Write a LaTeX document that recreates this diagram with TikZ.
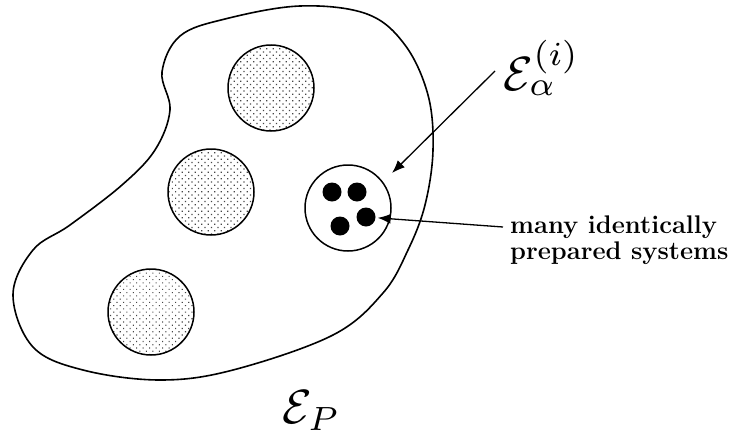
\documentclass[tikz,border=0pt]{standalone}
\usepackage{amsmath,amssymb}
\usepackage{tikz}
\usetikzlibrary{arrows.meta,patterns.meta}
\definecolor{dotgray}{RGB}{70,70,70}
\tikzset{
  ens/.style={circle, draw, line width=1.5pt, minimum size=86pt, inner sep=0pt},
  dotted ens/.style={ens, pattern={Dots[distance=4.6pt, radius=0.85pt, angle=45]}, pattern color=dotgray},
  sysdot/.style={circle, fill=black, minimum size=19pt, inner sep=0pt},
  biglabel/.style={scale=4.8, inner sep=0pt},
  arr/.style={-{Latex[length=13pt, width=10pt]}, line width=1.3pt, shorten >=2pt}
}

\begin{document}
\begin{tikzpicture}[x=1pt, y=-1pt]
    \useasboundingbox (0,0) rectangle (735,439);
    \draw[line width=1.6pt] plot[smooth cycle, tension=0.6] coordinates {
      (300,6) (367,14) (405,45) (428,95) (433,150) (425,205) (408,250) (383,293)
      (333,335) (233,370) (160,380) (83,370) (33,347) (13,295) (33,250) (70,225)
      (122,185) (155,150) (170,110) (162,72) (180,36) (225,19)};
    \node[dotted ens] (ea) at (271,88) {};
    \node[dotted ens] (eb) at (211,192) {};
    \node[dotted ens] (ec) at (151,312) {};
    \node[ens] (ei) at (348,208) {};
    \node[sysdot] (d1) at (332,192) {};
    \node[sysdot] (d2) at (357,192) {};
    \node[sysdot] (d3) at (340,226) {};
    \node[sysdot] (d4) at (366,217) {};
    \node[biglabel, anchor=base west] (lbl) at (503,90) {$\mathcal{E}_\alpha^{(i)}$};
    \node[biglabel, anchor=base west] (lp) at (282,423) {$\mathcal{E}_P$};
    \node[anchor=north west, align=left, inner sep=0pt, font=\fontsize{25.5}{26}\selectfont\bfseries] (sys) at (510,216) {many identically\\prepared systems};
    \coordinate (a1) at (495,71);
    \coordinate (a2) at (503,227);
    \coordinate (t1) at (392,173);
    \draw[arr, shorten >=0pt] (a1) -- (t1);
    \draw[arr] (a2) -- (d4);
  \end{tikzpicture}
\end{document}
